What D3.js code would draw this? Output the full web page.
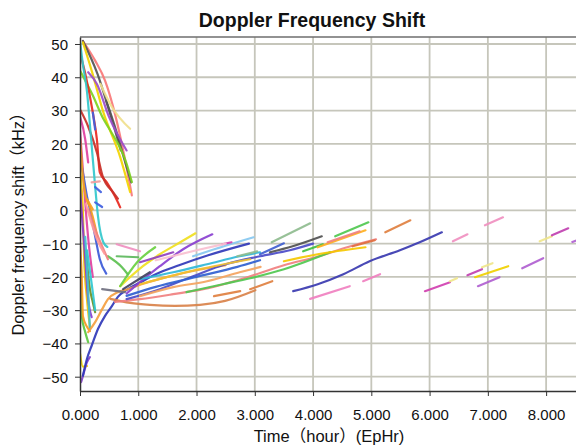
<!DOCTYPE html>
<html><head><meta charset="utf-8">
<script src="https://cdn.jsdelivr.net/npm/d3@7"></script>
<style>
body{margin:0;background:#fff;}
svg{display:block;font-family:"Liberation Sans",Arial,"Noto Sans CJK SC",sans-serif;}
</style></head>
<body><svg id="c" width="576" height="447"></svg>
<script>
// ---- data ----
const title = "Doppler Frequency Shift";
const xLabel = "Time（hour）(EpHr)";
const yLabel = "Doppler frequency shift（kHz）";
const xTicks = [0,1,2,3,4,5,6,7,8];
const yTicks = [-50,-40,-30,-20,-10,0,10,20,30,40,50];
const xDomain = [0, 8.53];
const yDomain = [-54.3, 52.1];

// each series: colour + list of [time (h), shift (kHz)]
const seriesColors = [
 "#f87878","#555555","#555555","#f2d400","#f0e08c","#9b4dca","#7ed321","#e8281e","#c83028","#33c8cc",
 "#e040a0","#3c5ad8","#f5a020","#f0c800","#8a3ad0","#5cc840","#6b8e23","#40c0d0","#f59a20","#f0d000",
 "#8040c8","#3038b8","#f5a040","#f0e020","#8a40d0","#6ad040","#5cc050","#5cb85c","#f090c0","#707080",
 "#d9824a","#f08080","#50c850","#e08040","#e08040","#30b8d8","#4b4bc8","#87c8f0","#d040b0","#8fbc8f",
 "#8fbc8f","#505050","#4060d0","#f5c800","#40c040","#ffb020","#f08080","#e07040","#50c850","#e08040",
 "#3a3ab0","#f080c0","#f080c0","#d040b0","#f0e68c","#c040b0","#f0d000","#f0e68c","#b060d0","#f090c0",
 "#f090c0","#b060d0","#f0e68c","#c040b0","#b060d0","#f8c0d0","#3060d0","#f4a460","#f0c030","#9040c0",
 "#404060","#4060e0","#f0a0a0","#4060e0","#4060e0","#f5a020","#e040a0","#f08080","#ff9999","#30c8d0"
];
const seriesData = [
 [[0.05,50.9],[0.26,45],[0.43,39],[0.6,29],[0.77,15.5],[0.89,4.5]],
 [[0.05,50.9],[0.3,41],[0.5,30],[0.7,18]],
 [[0.45,33],[0.62,24],[0.75,16],[0.88,8.4]],
 [[0.05,50.5],[0.2,42],[0.4,29.5],[0.69,16],[0.86,5.5]],
 [[0.35,38],[0.55,31],[0.86,24.5]],
 [[0.14,41.5],[0.29,38],[0.5,28],[0.8,18]],
 [[0.0,42],[0.22,34.5],[0.4,27.5],[0.51,24.3],[0.8,14],[0.89,8.5]],
 [[0.0,47.4],[0.086,41.4],[0.22,29.4],[0.29,21.3],[0.34,11.4],[0.46,8.4],[0.6,4.2],[0.69,0.9]],
 [[0.0,30.3],[0.14,25.2],[0.29,17.4],[0.39,10.2],[0.57,5.4],[0.65,3.5]],
 [[0.0,50.7],[0.05,43.8],[0.12,35.7],[0.17,25.8],[0.21,17.4],[0.26,7.2],[0.31,-2],[0.4,-9.6],[0.47,-11]],
 [[0.0,24],[0.05,12],[0.1,0],[0.15,-10],[0.22,-20]],
 [[0.0,16],[0.05,11.4],[0.12,4.2],[0.17,0.3],[0.26,-7.8],[0.34,-14.7],[0.45,-19]],
 [[0.0,22],[0.05,10],[0.1,4],[0.17,1],[0.22,-2],[0.3,-8]],
 [[0.0,12],[0.03,6.3],[0.05,-0.3],[0.07,-14],[0.12,-26.7],[0.17,-35]],
 [[0.0,6.3],[0.086,-13.8],[0.14,-26.7],[0.2,-32.1]],
 [[0.0,-15],[0.03,-31.8],[0.09,-36.6],[0.14,-39.6]],
 [[0.1,-12],[0.17,-23.7],[0.22,-27.6],[0.26,-30.6]],
 [[0.09,-8],[0.14,-24],[0.17,-35.7]],
 [[0.0,-10],[0.03,-20],[0.05,-31.8],[0.12,-35],[0.17,-36.3]],
 [[0.0,-43],[0.05,-47],[0.12,-46.8]],
 [[0.02,-51.6],[0.05,-49.8],[0.12,-45.6],[0.17,-44.1]],
 [[0.05,-49.7],[0.12,-44.6],[0.2,-40.7],[0.31,-35.6],[0.43,-31.7],[0.55,-28.7],[0.65,-26],[0.82,-23.7],[1.03,-21.7],[1.3,-19.2],[1.7,-16.5],[2.2,-13.5],[2.9,-10]],
 [[0.14,-36.6],[0.26,-33.6],[0.38,-29.7],[0.48,-26.7],[0.65,-24.6],[0.82,-23.7],[1.1,-22],[1.5,-20],[2.0,-18],[2.5,-16.5]],
 [[0.69,-22.8],[1.08,-16.8],[1.37,-13.2],[1.72,-9.6],[1.98,-6.9]],
 [[0.8,-25],[1.03,-21.6],[1.37,-16.8],[1.77,-11.7],[2.27,-7.2]],
 [[0.69,-22.8],[0.98,-15.6],[1.29,-11.1]],
 [[0.48,-13.8],[0.72,-17.1],[0.82,-19.2]],
 [[0.63,-13.8],[1.0,-14.1]],
 [[0.63,-10.2],[1.03,-12.3]],
 [[0.38,-23.7],[0.77,-24.6]],
 [[0.52,-26.6],[0.86,-27.8],[1.2,-28.4],[1.63,-28.7],[2.06,-28.4],[2.49,-27.2],[3.01,-24]],
 [[0.6,-27.5],[1.03,-26.7],[1.6,-25.2],[2.2,-23.4],[2.8,-20.5],[3.5,-16.5],[4.1,-13.8],[4.6,-11],[5.08,-8.7]],
 [[1.83,-24.6],[2.45,-22.2],[2.92,-20.4],[3.5,-17.7],[4.29,-12.6]],
 [[2.3,-25.8],[2.75,-24.3]],
 [[2.92,-23.7],[3.3,-21.3]],
 [[1.03,-20.7],[1.6,-18.6],[2.18,-16.2],[2.74,-13.8],[3.09,-12.6]],
 [[0.8,-26.7],[1.37,-23.7],[1.94,-19.8],[2.5,-16.2],[3.09,-13.8],[3.6,-12],[4.0,-10]],
 [[1.94,-13.8],[2.47,-10.8],[2.98,-8.1]],
 [[2.44,-10.2],[2.6,-9.6]],
 [[2.7,-13.8],[3.04,-12.3]],
 [[3.29,-9.6],[3.95,-3.9]],
 [[3.26,-12.6],[3.65,-10.8],[4.15,-7.8]],
 [[3.09,-13.2],[3.5,-9.9]],
 [[3.5,-15.3],[4.08,-13.2],[4.9,-11.1]],
 [[3.83,-12.3],[4.17,-10.2]],
 [[4.08,-11.1],[4.9,-6]],
 [[4.25,-9.6],[4.8,-6.3]],
 [[4.68,-10.8],[5.06,-9]],
 [[4.38,-7.8],[4.95,-3.6]],
 [[5.24,-6.6],[5.67,-3]],
 [[3.66,-24.3],[4.08,-22.2],[4.52,-19.2],[4.97,-15.3],[5.49,-12],[5.83,-9.6],[6.21,-6.6]],
 [[3.95,-26.6],[4.63,-22.8]],
 [[4.86,-21.3],[5.15,-19.2]],
 [[5.92,-24.3],[6.35,-21.6]],
 [[6.35,-21.3],[6.47,-20.4]],
 [[6.65,-19.5],[6.9,-17.7]],
 [[6.78,-20.1],[7.35,-16.8]],
 [[6.9,-17.1],[7.08,-15.9]],
 [[6.83,-22.8],[7.2,-20.1]],
 [[6.4,-9.3],[6.65,-7.2]],
 [[6.95,-4.5],[7.26,-2.1]],
 [[7.59,-17.4],[7.95,-14.4]],
 [[7.89,-9.3],[8.1,-7.8]],
 [[8.1,-7.5],[8.38,-5.4]],
 [[8.45,-9.5],[8.6,-8.5]],
 [[1.3,-15],[2.0,-12],[2.5,-10]],
 [[0.8,-25.7],[1.3,-23],[2.0,-20],[2.7,-17],[3.09,-15]],
 [[1.03,-25.8],[1.6,-23.1],[2.18,-21.3],[2.74,-18.6],[3.1,-17]],
 [[1.03,-22.2],[1.89,-18.3],[2.92,-14.7]],
 [[1.03,-15.6],[1.6,-12.6]],
 [[0.74,-23.7],[1.2,-18.6]],
 [[0.22,29.4],[0.26,24.3]],
 [[0.2,8.4],[0.34,8.7]],
 [[0.26,7],[0.36,5.5]],
 [[0.26,2.4],[0.38,1]],
 [[0.12,3.3],[0.22,0.3]],
 [[0.0,28.2],[0.09,21.3],[0.14,14.4]],
 [[0.14,0.3],[0.26,-5.7],[0.38,-10.8],[0.48,-14.7]],
 [[0.1,2],[0.2,-4],[0.3,-9],[0.42,-13]],
 [[0.12,-12],[0.2,-22],[0.26,-30]]
];

// ---- chart ----
const svg = d3.select("#c");
const L = 80, R = 577, T = 37, B = 391;
const x = d3.scaleLinear().domain(xDomain).range([L, R]);
const y = d3.scaleLinear().domain(yDomain).range([B, T]);

svg.append("rect").attr("x",L).attr("y",T).attr("width",R-L).attr("height",B-T).attr("fill","#ffffff");

svg.append("defs").append("clipPath").attr("id","clip")
  .append("rect").attr("x",L).attr("y",T).attr("width",R-L).attr("height",B-T);

// grid
const g = svg.append("g");
g.selectAll(".gx").data(xTicks.filter(d=>d>0)).join("line")
  .attr("x1",d=>x(d)).attr("x2",d=>x(d)).attr("y1",T).attr("y2",B)
  .attr("stroke","#c6c6bb").attr("stroke-width",1.8);
g.selectAll(".gy").data(yTicks).join("line")
  .attr("x1",L).attr("x2",R).attr("y1",d=>y(d)).attr("y2",d=>y(d))
  .attr("stroke","#c6c6bb").attr("stroke-width",1.8);

// curves
const line = d3.line().x(d=>x(d[0])).y(d=>y(d[1])).curve(d3.curveMonotoneX);
svg.append("g").attr("clip-path","url(#clip)")
  .selectAll("path").data(seriesData).join("path")
  .attr("d",line).attr("fill","none")
  .attr("stroke",(d,i)=>seriesColors[i % seriesColors.length])
  .attr("stroke-width",2.2).attr("stroke-linecap","round").attr("stroke-opacity",0.92);

// frame
svg.append("line").attr("x1",L).attr("x2",R).attr("y1",T).attr("y2",T).attr("stroke","#6e6e6e").attr("stroke-width",1.6);

// axes
const xa = svg.append("g").attr("transform",`translate(0,${B})`)
  .call(d3.axisBottom(x).tickValues(xTicks).tickFormat(d3.format(".3f")).tickSize(5).tickSizeOuter(0));
const ya = svg.append("g").attr("transform",`translate(${L},0)`)
  .call(d3.axisLeft(y).tickValues(yTicks).tickSize(5).tickSizeOuter(0));
[xa,ya].forEach(a=>{
  a.select(".domain").attr("stroke","#333").attr("stroke-width",1.5);
  a.selectAll(".tick line").attr("stroke","#333");
  a.selectAll("text").attr("font-size",15).attr("fill","#111").attr("font-family","Liberation Sans, Arial, sans-serif");
});
xa.selectAll("text").attr("y",29).attr("dy","0");
ya.selectAll("text").attr("x",-12).attr("dy","0.36em");

svg.append("text").attr("x",312).attr("y",27).attr("text-anchor","middle")
  .attr("font-size",19.5).attr("font-weight","bold").attr("fill","#111").text(title);
svg.append("text").attr("x",329).attr("y",442).attr("text-anchor","middle")
  .attr("font-size",16.5).attr("fill","#111").text(xLabel);
svg.append("text").attr("transform","translate(24,220) rotate(-90)").attr("text-anchor","middle")
  .attr("font-size",16.5).attr("fill","#111").text(yLabel);
</script></body></html>
